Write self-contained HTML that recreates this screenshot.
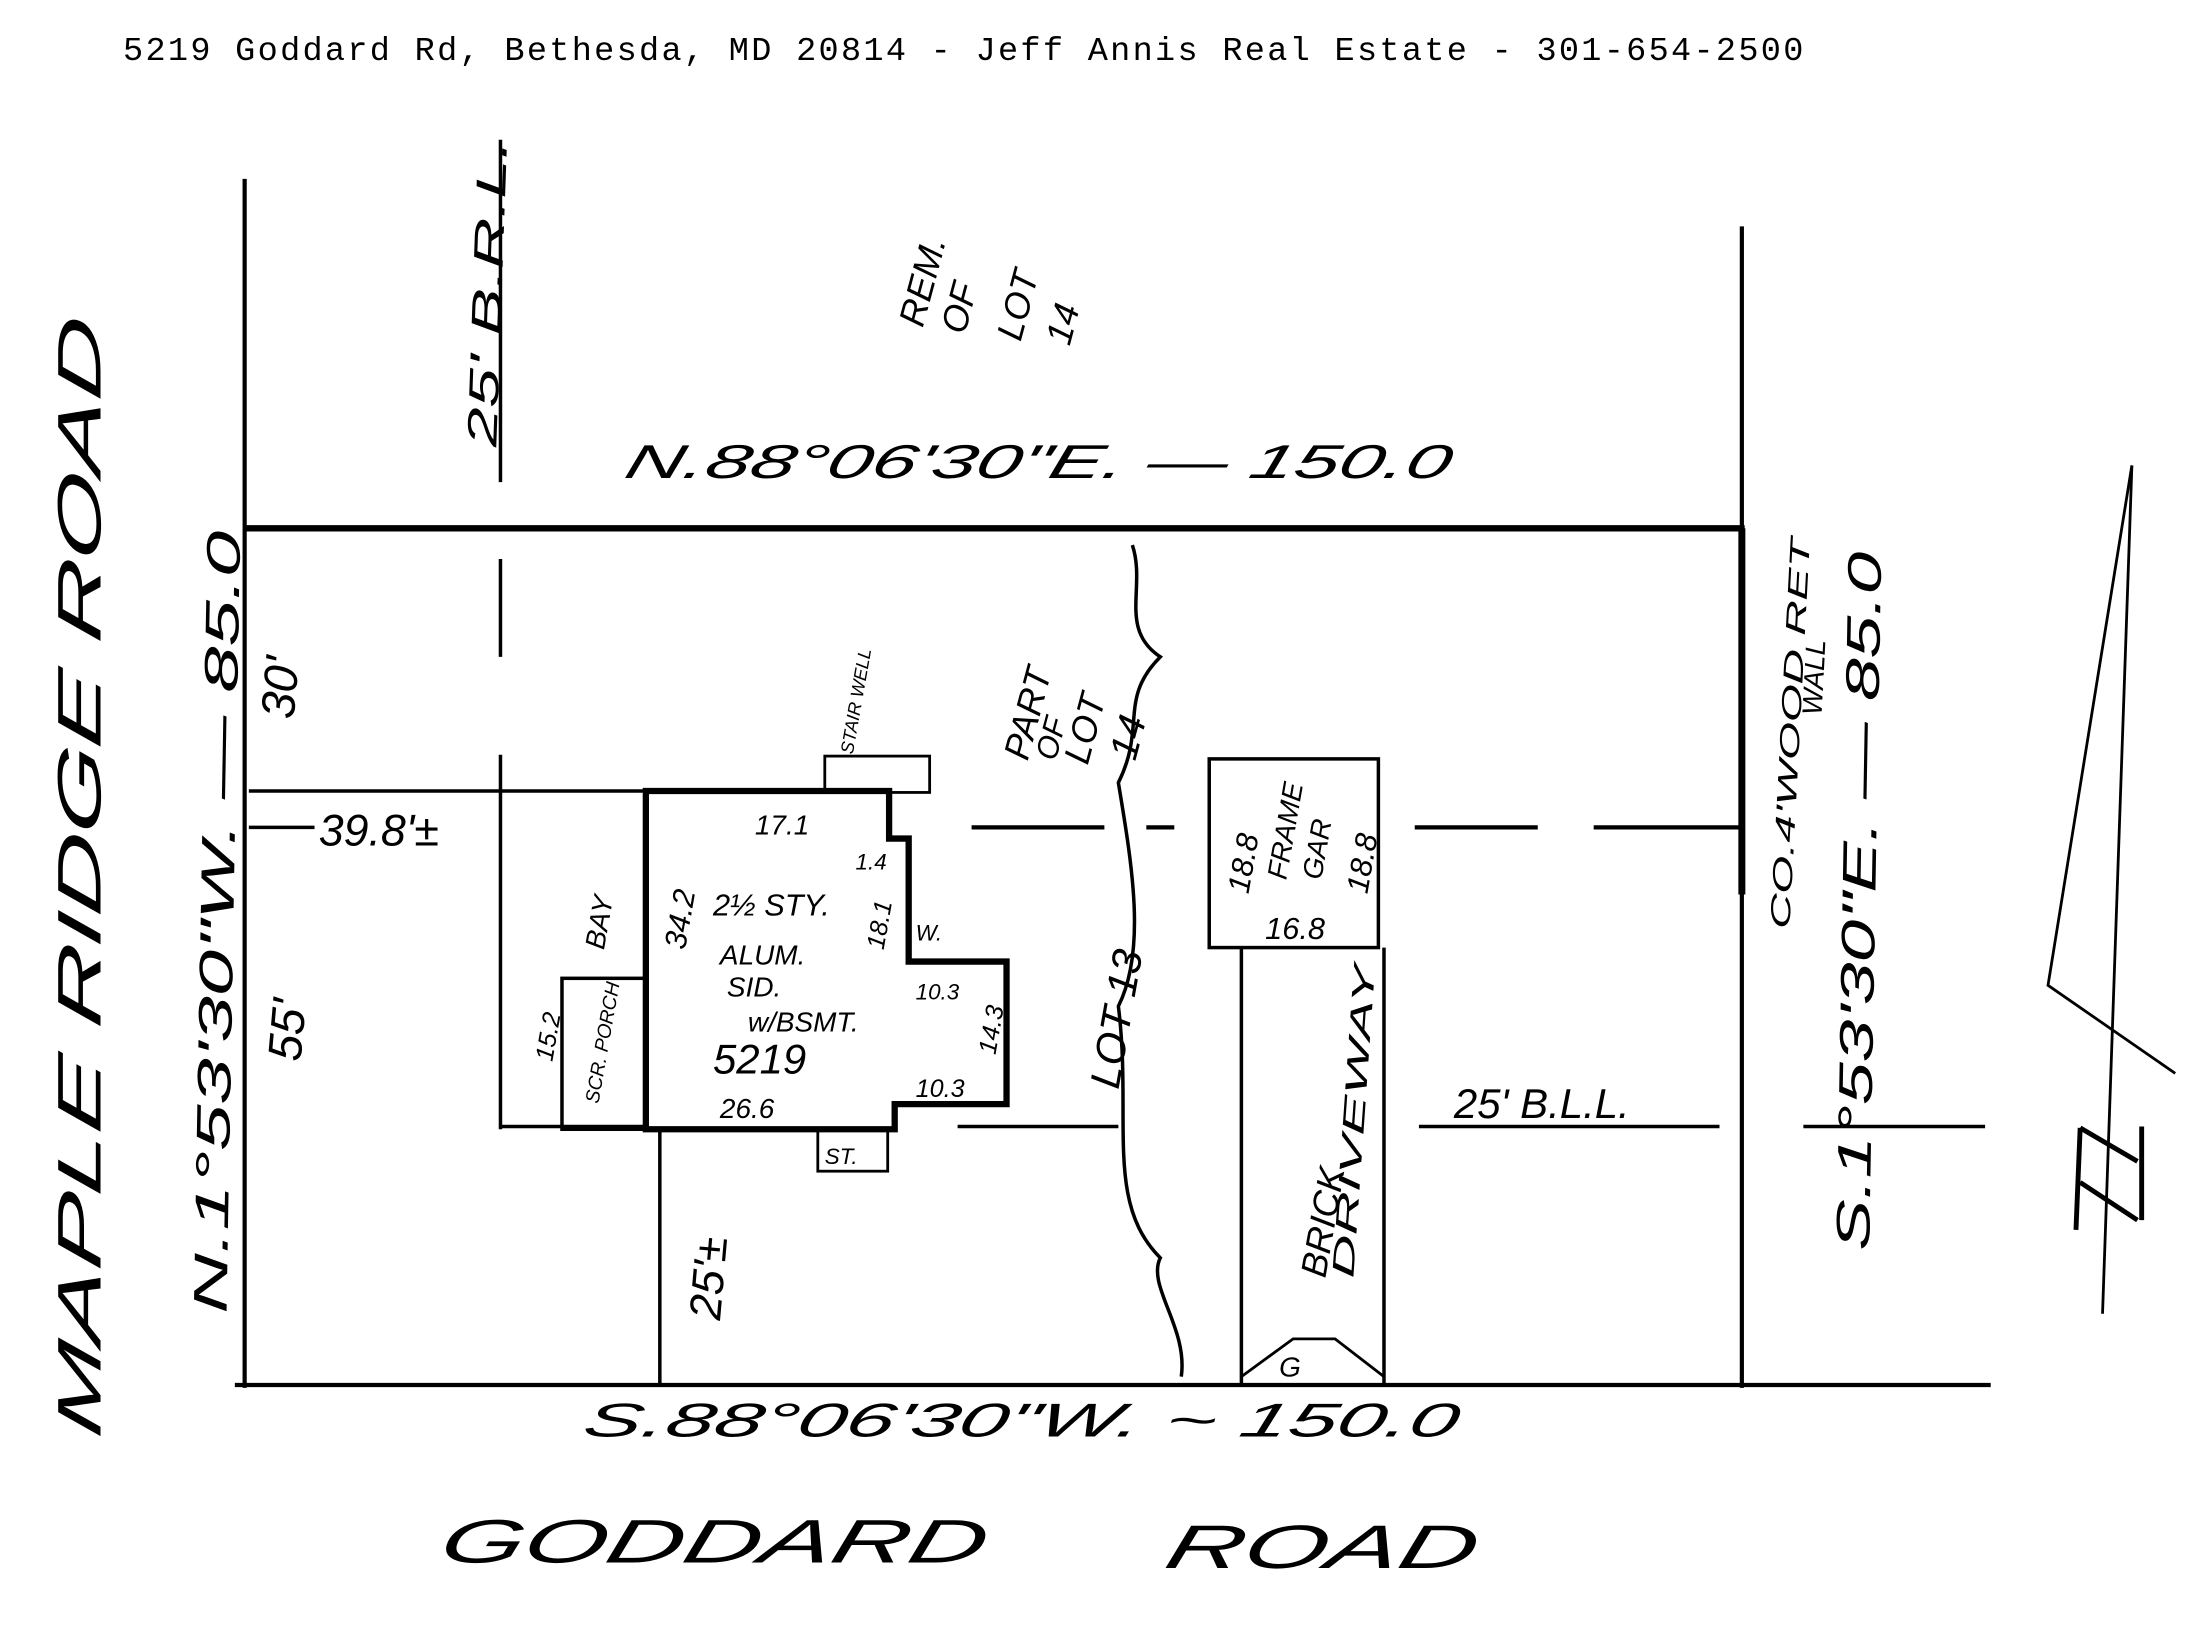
<!DOCTYPE html>
<html><head><meta charset="utf-8"><style>
html,body{margin:0;padding:0;background:#fff;}
svg{display:block;}
.h{font-family:"Liberation Sans",sans-serif;font-style:italic;fill:#000;}
</style></head><body>
<svg width="2192" height="1631" viewBox="0 0 1568 1167" preserveAspectRatio="none" xmlns="http://www.w3.org/2000/svg">
<text x="88" y="43" font-family="Liberation Mono,monospace" font-size="24" textLength="1202" lengthAdjust="spacing" fill="#000">5219 Goddard Rd, Bethesda, MD 20814 - Jeff Annis Real Estate - 301-654-2500</text>
<g stroke="#000" fill="none" stroke-width="3">
<line x1="175" y1="128" x2="175" y2="993"/>
<line x1="1246" y1="162" x2="1246" y2="993"/>
<line x1="175" y1="378" x2="1248" y2="378" stroke-width="4.5"/>
<line x1="1246" y1="378" x2="1246" y2="640" stroke-width="5"/>
<line x1="168" y1="991" x2="1424" y2="991"/>
<line x1="358" y1="100" x2="358" y2="345" stroke-width="2.5"/>
<line x1="358" y1="400" x2="358" y2="470" stroke-width="2.5"/>
<line x1="358" y1="540" x2="358" y2="808" stroke-width="2.5"/>
<line x1="178" y1="566" x2="462" y2="566" stroke-width="2.5"/>
<line x1="178" y1="592" x2="225" y2="592" stroke-width="2.5"/>
<path d="M695 592H790M820 592H840M1012 592H1100M1140 592H1246" stroke-width="3"/>
<path d="M358 806H462M685 806H800M1015 806H1230M1290 806H1420" stroke-width="2.5"/>
<path d="M462 566V808H640V790H720V688H650V600H636V566Z" stroke-width="4.5"/>
<rect x="402" y="700" width="60" height="108" stroke-width="2.5"/>
<rect x="590" y="541" width="75" height="26" stroke-width="2"/>
<rect x="585" y="808" width="50" height="30" stroke-width="2"/>
<rect x="865" y="543" width="121" height="135" stroke-width="2.5"/>
<line x1="888" y1="678" x2="888" y2="990" stroke-width="2.5"/>
<line x1="990" y1="678" x2="990" y2="990" stroke-width="2.5"/>
<path d="M888 985L925 958H955L990 985" stroke-width="2"/>
<line x1="472" y1="808" x2="472" y2="990" stroke-width="2.5"/>
<path d="M810 390C820 420 800 450 830 470 C800 500 820 520 800 560 C810 620 820 680 800 720 C810 800 790 860 830 900 C820 920 850 950 845 985" stroke-width="2.5"/>
<path d="M1525 333L1465 705L1556 768" stroke-width="2"/>
<line x1="1525" y1="333" x2="1504" y2="940" stroke-width="2"/>
<path d="M1488 807L1485 880M1488 807L1529 831M1488 846L1529 873M1532 806V873" stroke-width="3.5"/>
</g>
<g class="h">
<text x="445" y="342" font-size="34" textLength="590" lengthAdjust="spacingAndGlyphs" transform="skewX(-15) translate(92,0)">N.88°06'30"E. — 150.0</text>
<text x="415" y="1028" font-size="34" textLength="625" lengthAdjust="spacingAndGlyphs" transform="skewX(-15) translate(276,0)">S.88°06'30"W. ~ 150.0</text>
<text x="312" y="1118" font-size="44" textLength="390" lengthAdjust="spacingAndGlyphs" transform="skewX(-15) translate(300,0)">GODDARD</text>
<text x="832" y="1122" font-size="44" textLength="222" lengthAdjust="spacingAndGlyphs" transform="skewX(-15) translate(300,0)">ROAD</text>
<text transform="translate(72,1030) rotate(-90) skewX(-12)" font-size="44" textLength="800" lengthAdjust="spacingAndGlyphs">MAPLE  RIDGE  ROAD</text>
<text transform="translate(162,940) rotate(-89)" font-size="34" textLength="560" lengthAdjust="spacingAndGlyphs">N.1°53'30"W. — 85.0</text>
<text transform="translate(1337,895) rotate(-89)" font-size="34" textLength="500" lengthAdjust="spacingAndGlyphs">S.1°53'30"E. — 85.0</text>
<text transform="translate(355,320) rotate(-88)" font-size="30" textLength="220" lengthAdjust="spacingAndGlyphs">25' B.R.L.</text>
<text transform="translate(210,515) rotate(-85)" font-size="34">30'</text>
<text transform="translate(215,760) rotate(-85)" font-size="34">55'</text>
<text transform="translate(515,945) rotate(-85)" font-size="32">25'±</text>
<text x="228" y="605" font-size="32">39.8'±</text>
<text x="1040" y="800" font-size="30">25' B.L.L.</text>
<text transform="translate(660,235) rotate(-75)" font-size="26">REM.</text>
<text transform="translate(690,240) rotate(-75)" font-size="26">OF</text>
<text transform="translate(730,245) rotate(-75)" font-size="26">LOT</text>
<text transform="translate(765,248) rotate(-75)" font-size="26">14</text>
<text transform="translate(735,545) rotate(-75)" font-size="26">PART</text>
<text transform="translate(755,545) rotate(-75)" font-size="22">OF</text>
<text transform="translate(778,548) rotate(-75)" font-size="26">LOT</text>
<text transform="translate(812,545) rotate(-75)" font-size="28">14</text>
<text transform="translate(800,780) rotate(-80)" font-size="30">LOT 13</text>
<text transform="translate(1280,665) rotate(-87)" font-size="20" textLength="280" lengthAdjust="spacingAndGlyphs">CO.4'WOOD RET</text>
<text transform="translate(1303,512) rotate(-87)" font-size="20">WALL</text>
<text transform="translate(948,915) rotate(-80)" font-size="26">BRICK</text>
<text transform="translate(968,915) rotate(-86)" font-size="22" textLength="225" lengthAdjust="spacingAndGlyphs">DRIVEWAY</text>
<text transform="translate(893,640) rotate(-80)" font-size="22">18.8</text>
<text transform="translate(920,630) rotate(-80)" font-size="20">FRAME</text>
<text transform="translate(945,630) rotate(-80)" font-size="20">GAR</text>
<text transform="translate(978,640) rotate(-80)" font-size="22">18.8</text>
<text x="905" y="672" font-size="22">16.8</text>
<text x="915" y="985" font-size="20">G</text>
<text x="540" y="597" font-size="20">17.1</text>
<text x="510" y="655" font-size="22">2½ STY.</text>
<text x="515" y="690" font-size="20">ALUM.</text>
<text x="520" y="713" font-size="20">SID.</text>
<text x="535" y="738" font-size="20">w/BSMT.</text>
<text x="510" y="768" font-size="30">5219</text>
<text x="515" y="800" font-size="20">26.6</text>
<text x="655" y="785" font-size="18">10.3</text>
<text x="655" y="715" font-size="16">10.3</text>
<text x="612" y="622" font-size="16">1.4</text>
<text x="655" y="673" font-size="16">W.</text>
<text x="590" y="833" font-size="16">ST.</text>
<text transform="translate(490,680) rotate(-80)" font-size="22">34.2</text>
<text transform="translate(632,680) rotate(-80)" font-size="18">18.1</text>
<text transform="translate(712,755) rotate(-80)" font-size="18">14.3</text>
<text transform="translate(395,760) rotate(-80)" font-size="18">15.2</text>
<text transform="translate(428,790) rotate(-80)" font-size="14">SCR. PORCH</text>
<text transform="translate(432,680) rotate(-80)" font-size="20">BAY</text>
<text transform="translate(610,540) rotate(-80)" font-size="13">STAIR WELL</text>
</g>
</svg>
</body></html>
